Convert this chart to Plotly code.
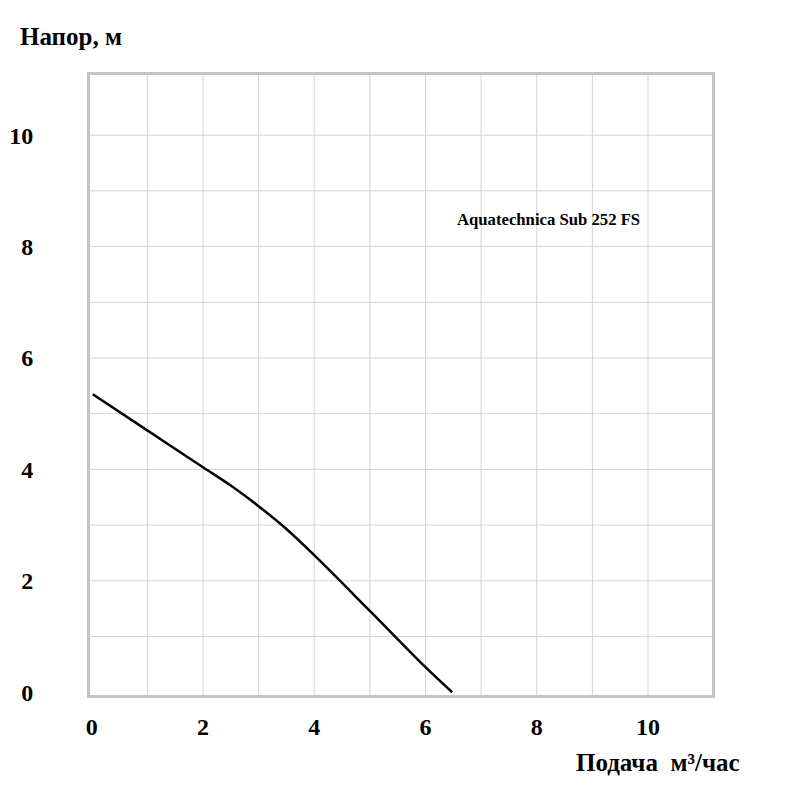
import plotly.graph_objects as go

# Pump curve: flow (m³/h) vs head (m)
flow = [0.02, 1.0, 2.0, 2.5, 3.0, 3.5, 4.0, 5.0, 6.0, 6.48]
head = [5.35, 4.70, 4.04, 3.71, 3.34, 2.93, 2.46, 1.46, 0.45, 0.0]

x_ticks = [0, 2, 4, 6, 8, 10]
y_ticks = [0, 2, 4, 6, 8, 10]
grid_vals = list(range(1, 11))

model_name = "Aquatechnica Sub 252 FS"
y_title = "Напор, м"
x_title = "Подача  м³/час"

FONT = "Liberation Serif, Times New Roman, serif"

fig = go.Figure()
fig.add_trace(go.Scatter(
    x=flow, y=head, mode="lines",
    line=dict(color="black", width=2.5, shape="spline", smoothing=1.0),
    hoverinfo="skip", showlegend=False,
))

grid_color = "#d4d4d4"
fig.update_xaxes(
    range=[-0.03, 11.15], tickvals=x_ticks, ticktext=[str(v) for v in x_ticks],
    showgrid=False, zeroline=False, automargin=False,
    showline=True, mirror=True, linecolor="#c4c4c4", linewidth=3,
    ticks="", ticklabelstandoff=8,
    tickfont=dict(family=FONT, size=24, color="black", weight="bold"),
)
fig.update_yaxes(
    range=[-0.05, 11.08], tickvals=y_ticks, ticktext=[str(v) for v in y_ticks],
    showgrid=False, zeroline=False, automargin=False,
    showline=True, mirror=True, linecolor="#c4c4c4", linewidth=3,
    ticks="", ticklabelstandoff=49,
    tickfont=dict(family=FONT, size=24, color="black", weight="bold"),
)

# grid lines every 1 unit
for v in grid_vals:
    fig.add_shape(type="line", xref="x", yref="paper", x0=v, x1=v, y0=0, y1=1,
                  line=dict(color=grid_color, width=1), layer="below")
    fig.add_shape(type="line", xref="paper", yref="y", x0=0, x1=1, y0=v, y1=v,
                  line=dict(color=grid_color, width=1), layer="below")

fig.add_annotation(x=8.22, y=8.49, xref="x", yref="y", text=model_name,
                   showarrow=False, font=dict(family=FONT, size=16.7, color="black", weight="bold"))
fig.add_annotation(x=-0.115, y=1.0625, xref="paper", yref="paper", text=y_title,
                   xanchor="left", yanchor="middle", showarrow=False,
                   font=dict(family=FONT, size=25, color="black", weight="bold"))
fig.add_annotation(x=1.0485, y=-0.109, xref="paper", yref="paper", text=x_title,
                   xanchor="right", yanchor="middle", showarrow=False,
                   font=dict(family=FONT, size=25, color="black", weight="bold"))

fig.update_layout(
    width=800, height=795,
    margin=dict(l=82, r=96, t=67, b=108),
    paper_bgcolor="white", plot_bgcolor="white",
    showlegend=False,
)

fig.write_html("out.html")
